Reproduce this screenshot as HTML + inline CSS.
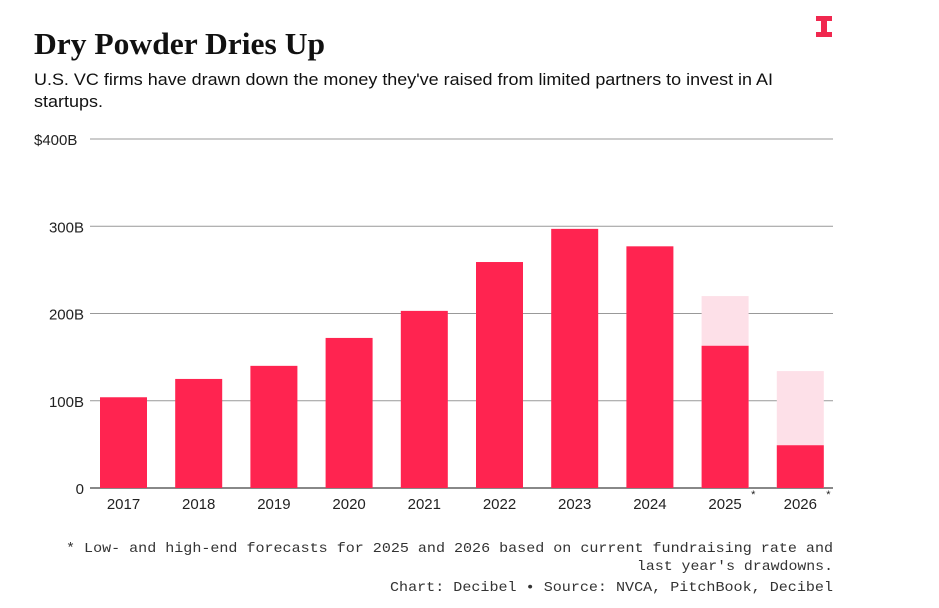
<!DOCTYPE html>
<html><head><meta charset="utf-8"><style>
body{margin:0;background:#fff;width:939px;height:603px;overflow:hidden;font-family:"Liberation Sans",sans-serif}
</style></head><body>
<svg width="939" height="603">
<text x="34" y="54" font-family="Liberation Serif,serif" font-size="31" font-weight="bold" fill="#111" textLength="291" lengthAdjust="spacingAndGlyphs">Dry Powder Dries Up</text>
<text x="34" y="85" font-size="17" fill="#111" textLength="739" lengthAdjust="spacingAndGlyphs">U.S. VC firms have drawn down the money they've raised from limited partners to invest in AI</text>
<text x="34" y="107" font-size="17" fill="#111" textLength="69" lengthAdjust="spacingAndGlyphs">startups.</text>
<g fill="#f0284f">
<rect x="816" y="16" width="16" height="5"/><rect x="821" y="16" width="6" height="18"/><rect x="816" y="32" width="16" height="5"/>
</g>
<g id="grid"></g><g id="bars"></g><g id="labels"></g>
<text x="66" y="552" font-family="Liberation Mono,monospace" font-size="14" fill="#333" textLength="767" lengthAdjust="spacingAndGlyphs">* Low- and high-end forecasts for 2025 and 2026 based on current fundraising rate and</text>
<text x="833" y="570" text-anchor="end" font-family="Liberation Mono,monospace" font-size="14" fill="#333" textLength="196" lengthAdjust="spacingAndGlyphs">last year's drawdowns.</text>
<text x="833" y="591" text-anchor="end" font-family="Liberation Mono,monospace" font-size="14" fill="#333" textLength="443" lengthAdjust="spacingAndGlyphs">Chart: Decibel • Source: NVCA, PitchBook, Decibel</text>
</svg>
<script>
const categories=["2017","2018","2019","2020","2021","2022","2023","2024","2025","2026"];
const actual=[104,125,140,172,203,259,297,277,163,49];
const forecastHigh=[null,null,null,null,null,null,null,null,220,134];
const ticks=[0,100,200,300,400];
const tickLabels=["0","100B","200B","300B","$400B"];
const starred=[false,false,false,false,false,false,false,false,true,true];
const NS="http://www.w3.org/2000/svg";
const y=v=>488-v*0.8725;
const x=i=>100+i*75.2;
const bw=47;
function mk(t,a,p){const e=document.createElementNS(NS,t);for(const k in a)e.setAttribute(k,a[k]);document.getElementById(p).appendChild(e);return e;}
ticks.forEach((t,i)=>{
 const l=mk('line',{x1:90,x2:833,y1:y(t),y2:y(t),stroke:i==0?'#888':'#999','stroke-width':i==0?2:1},'grid');
 
 
 const tx=mk('text',{x:i==4?34:84,y:y(t)+6,'font-size':15,fill:'#222','text-anchor':i==4?'start':'end'},'grid');
 tx.textContent=tickLabels[i];
 
 
});
categories.forEach((c,i)=>{
 if(forecastHigh[i]!=null){
  const r=mk('rect',{x:x(i),y:y(forecastHigh[i]),width:bw,height:y(0)-y(forecastHigh[i]),fill:'#fde0e8'},'bars');
  
  
 }
 const r=mk('rect',{x:x(i),y:y(actual[i]),width:bw,height:y(0)-y(actual[i]),fill:'#ff2450'},'bars');
 
 
 const t=mk('text',{x:x(i)+bw/2,y:509,'font-size':15,fill:'#222','text-anchor':'middle'},'labels');
 t.textContent=c;
 
 
 if(starred[i]){const s=mk('text',{x:x(i)+bw/2+26,y:498,'font-size':11,fill:'#222'},'labels');s.textContent='*';
 
 }
});
</script>
</body></html>
